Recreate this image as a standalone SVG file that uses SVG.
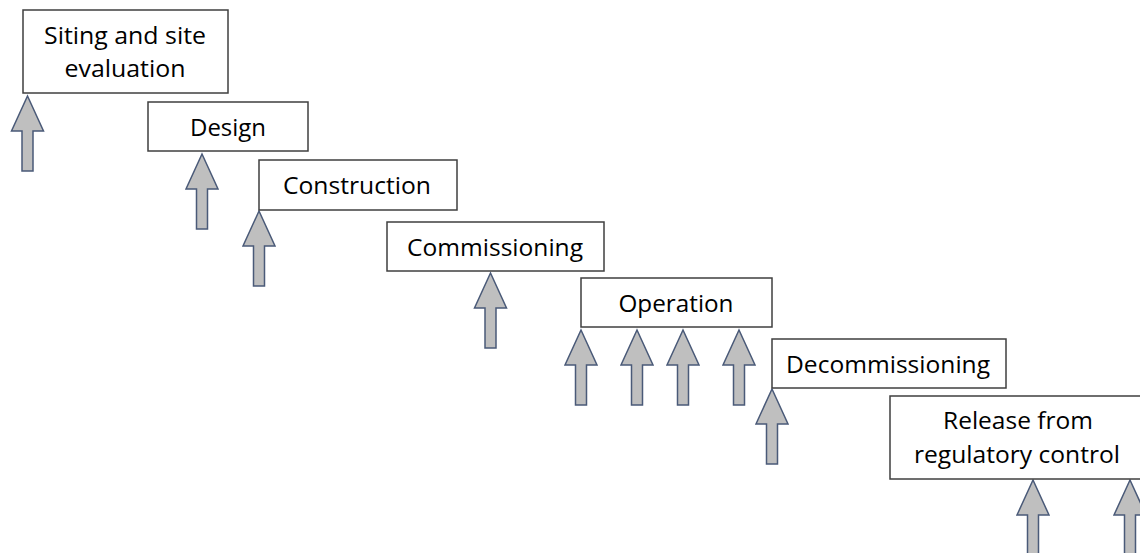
<svg xmlns="http://www.w3.org/2000/svg" xmlns:xlink="http://www.w3.org/1999/xlink" width="1140" height="553" viewBox="0 0 1140 553">
<style>
.box{fill:#fff;stroke:#3f3f3f;stroke-width:1.5}
.lbl{font-family:"Open Sans","Noto Sans",sans-serif;font-size:23px;fill:#000;text-anchor:middle}
.arr{fill:#bfbfbf;stroke:#4a5a78;stroke-width:1.5;stroke-linejoin:miter}
</style>
<defs>
<path id="up" d="M0,0 L16,35 L5.5,35 L5.5,75 L-5.5,75 L-5.5,35 L-16,35 Z"/>
</defs>
<rect width="1140" height="553" fill="#fff"/>
<g id="connectors">
<use xlink:href="#up" class="arr" x="27.5" y="96"/>
<use xlink:href="#up" class="arr" x="202" y="154"/>
<use xlink:href="#up" class="arr" x="259" y="211"/>
<use xlink:href="#up" class="arr" x="490.5" y="273"/>
<use xlink:href="#up" class="arr" x="581" y="330"/>
<use xlink:href="#up" class="arr" x="637" y="330"/>
<use xlink:href="#up" class="arr" x="683" y="330"/>
<use xlink:href="#up" class="arr" x="739" y="330"/>
<use xlink:href="#up" class="arr" x="772" y="389"/>
<use xlink:href="#up" class="arr" x="1033" y="480"/>
<use xlink:href="#up" class="arr" x="1130" y="480"/>
</g>
<g id="siting">
<rect class="box" x="23" y="10" width="205" height="83"/>
<text class="lbl" x="125" y="44" textLength="162" lengthAdjust="spacingAndGlyphs">Siting and site</text>
<text class="lbl" x="125" y="77" textLength="121" lengthAdjust="spacingAndGlyphs">evaluation</text>
</g>
<g id="design">
<rect class="box" x="148" y="102" width="160" height="49"/>
<text class="lbl" x="228" y="136" textLength="76" lengthAdjust="spacingAndGlyphs">Design</text>
</g>
<g id="construction">
<rect class="box" x="259" y="160" width="198" height="50"/>
<text class="lbl" x="357" y="194" textLength="148" lengthAdjust="spacingAndGlyphs">Construction</text>
</g>
<g id="commissioning">
<rect class="box" x="387" y="222" width="217" height="49"/>
<text class="lbl" x="495" y="256" textLength="176" lengthAdjust="spacingAndGlyphs">Commissioning</text>
</g>
<g id="operation">
<rect class="box" x="581" y="278" width="191" height="49"/>
<text class="lbl" x="676" y="312" textLength="115" lengthAdjust="spacingAndGlyphs">Operation</text>
</g>
<g id="decommissioning">
<rect class="box" x="772" y="339" width="234" height="49"/>
<text class="lbl" x="888" y="373" textLength="204" lengthAdjust="spacingAndGlyphs">Decommissioning</text>
</g>
<g id="release">
<rect class="box" x="890" y="396" width="254" height="83"/>
<text class="lbl" x="1018" y="429" textLength="150" lengthAdjust="spacingAndGlyphs">Release from</text>
<text class="lbl" x="1017" y="463" textLength="206" lengthAdjust="spacingAndGlyphs">regulatory control</text>
</g>
</svg>
